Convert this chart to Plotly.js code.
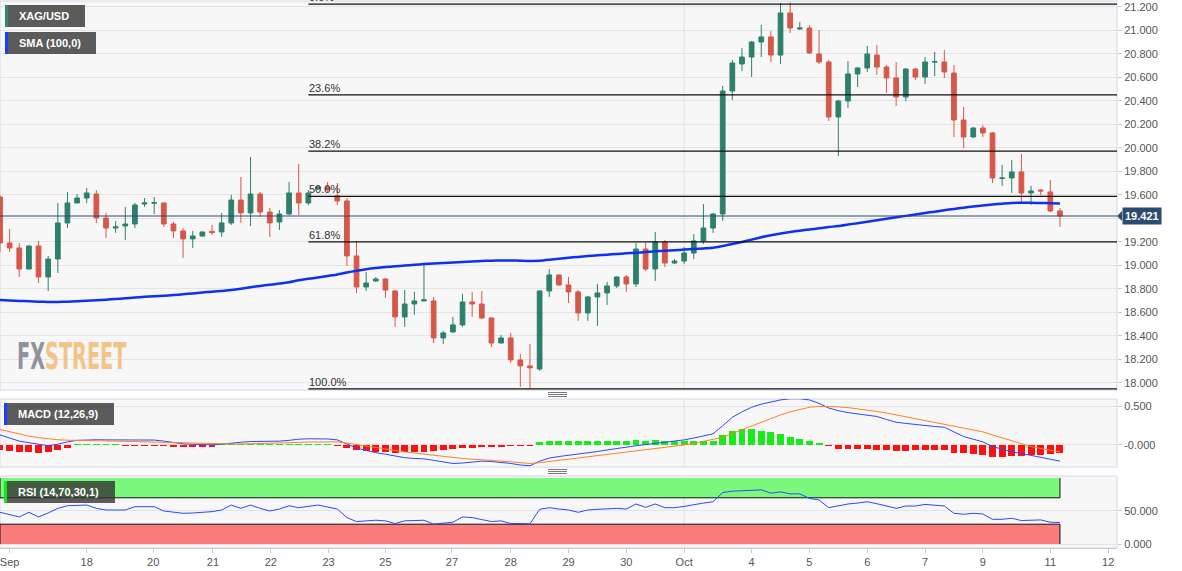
<!DOCTYPE html>
<html><head><meta charset="utf-8">
<script src="https://cdn.plot.ly/plotly-3.0.1.min.js"></script>
<style>html,body{margin:0;padding:0;background:#fff;}#chart{width:1182px;height:571px;}</style>
</head><body><div id="chart"></div>
<script>
// ---- data (4H XAG/USD candles) ----
const open = [
19.583,19.191,19.149,18.970,19.166,18.902,19.055,19.362,19.532,19.574,
19.608,19.404,19.319,19.336,19.353,19.523,19.530,19.532,19.353,19.294,
19.226,19.251,19.290,19.285,19.362,19.557,19.447,19.608,19.455,19.370,
19.438,19.617,19.532,19.651,19.668,19.592,19.549,19.081,18.817,18.868,
18.885,18.783,18.562,18.672,18.698,18.698,18.383,18.434,18.494,18.689,
18.672,18.553,18.340,18.383,18.196,18.145,18.119,18.783,18.919,18.834,
18.775,18.596,18.732,18.766,18.826,18.902,18.843,19.140,18.970,19.200,
19.021,19.038,19.106,19.209,19.319,19.438,20.485,20.715,20.774,20.902,
20.945,20.791,21.149,21.013,21.021,20.800,20.732,20.264,20.400,20.630,
20.681,20.791,20.689,20.596,20.434,20.672,20.604,20.730,20.732,20.638,
20.238,20.094,20.170,20.128,19.740,19.745,19.796,19.617,19.642,19.626,
19.464];
const high = [
19.600,19.311,19.191,19.170,19.209,19.081,19.532,19.626,19.608,19.660,
19.642,19.447,19.379,19.498,19.532,19.574,19.583,19.535,19.370,19.319,
19.294,19.287,19.345,19.447,19.600,19.753,19.923,19.626,19.489,19.472,
19.711,19.864,19.642,19.677,19.711,19.702,19.574,19.209,18.945,18.902,
18.894,18.790,18.791,18.775,19.021,18.732,18.443,18.562,18.758,18.775,
18.783,18.556,18.409,18.426,18.247,18.332,18.786,18.970,18.922,18.902,
18.791,18.741,18.843,18.860,18.905,18.919,19.191,19.191,19.285,19.217,
19.055,19.157,19.268,19.523,19.447,20.528,20.749,20.851,20.911,21.047,
20.996,21.234,21.240,21.072,21.047,21.004,20.749,20.409,20.740,20.689,
20.868,20.877,20.706,20.732,20.681,20.681,20.774,20.817,20.834,20.706,
20.349,20.179,20.196,20.136,19.855,19.898,19.949,19.677,19.651,19.728,
19.489];
const low = [
19.115,19.115,18.902,18.965,18.851,18.783,18.936,19.319,19.530,19.532,
19.362,19.234,19.277,19.217,19.319,19.498,19.438,19.328,19.234,19.064,
19.149,19.243,19.260,19.243,19.345,19.362,19.336,19.413,19.243,19.302,
19.430,19.430,19.515,19.642,19.626,19.515,18.996,18.766,18.783,18.860,
18.724,18.477,18.477,18.579,18.695,18.340,18.332,18.426,18.477,18.562,
18.545,18.306,18.337,18.170,17.966,17.957,18.102,18.732,18.830,18.681,
18.528,18.528,18.485,18.664,18.809,18.775,18.817,18.953,18.868,18.987,
19.013,19.013,19.055,19.183,19.277,19.379,20.409,20.655,20.604,20.774,
20.732,20.715,20.979,21.004,20.800,20.715,20.230,19.932,20.340,20.519,
20.647,20.621,20.468,20.357,20.400,20.579,20.545,20.613,20.596,20.094,
20.000,20.085,20.094,19.702,19.677,19.617,19.532,19.515,19.600,19.455,
19.328];
const close = [
19.191,19.149,18.970,19.166,18.902,19.055,19.362,19.532,19.574,19.617,
19.404,19.319,19.328,19.353,19.515,19.532,19.534,19.353,19.294,19.226,
19.251,19.285,19.280,19.362,19.557,19.447,19.608,19.455,19.362,19.438,
19.617,19.532,19.617,19.668,19.642,19.549,19.081,18.817,18.851,18.885,
18.791,18.562,18.672,18.698,18.707,18.383,18.426,18.494,18.689,18.672,
18.553,18.340,18.383,18.196,18.145,18.128,18.783,18.919,18.834,18.775,
18.596,18.732,18.766,18.826,18.902,18.843,19.140,18.970,19.200,19.021,
19.038,19.106,19.209,19.319,19.438,20.485,20.723,20.774,20.902,20.945,
20.791,21.149,21.021,21.021,20.809,20.732,20.264,20.400,20.630,20.681,
20.800,20.689,20.596,20.434,20.672,20.604,20.732,20.736,20.647,20.238,
20.094,20.170,20.128,19.745,19.745,19.796,19.617,19.634,19.634,19.464,
19.421];
const sma100 = [
18.706,18.702,18.698,18.695,18.692,18.690,18.690,18.692,18.695,18.700,
18.704,18.709,18.714,18.720,18.727,18.733,18.738,18.742,18.748,18.755,
18.762,18.770,18.777,18.783,18.791,18.802,18.815,18.826,18.836,18.846,
18.858,18.874,18.886,18.897,18.910,18.923,18.940,18.955,18.968,18.978,
18.986,18.993,18.999,19.006,19.012,19.017,19.022,19.026,19.030,19.034,
19.038,19.041,19.043,19.043,19.041,19.039,19.040,19.048,19.058,19.066,
19.073,19.080,19.086,19.092,19.097,19.103,19.108,19.114,19.120,19.125,
19.130,19.135,19.140,19.145,19.150,19.165,19.182,19.200,19.220,19.240,
19.258,19.272,19.285,19.296,19.306,19.316,19.327,19.336,19.348,19.360,
19.372,19.385,19.398,19.410,19.422,19.434,19.446,19.458,19.470,19.481,
19.492,19.502,19.511,19.519,19.526,19.532,19.534,19.533,19.532,19.530,
19.528];
const macd = [
0.13,0.09,0.05,0.03,0.01,-0.01,0.01,0.04,0.06,0.066,
0.068,0.066,0.066,0.066,0.067,0.066,0.064,0.05,0.03,0.015,
0.008,0.005,0.002,0.01,0.025,0.035,0.045,0.045,0.048,0.05,
0.06,0.075,0.08,0.08,0.078,0.066,0.01,-0.04,-0.07,-0.10,
-0.12,-0.145,-0.165,-0.175,-0.18,-0.2,-0.22,-0.24,-0.235,-0.22,
-0.21,-0.215,-0.225,-0.24,-0.26,-0.27,-0.21,-0.17,-0.15,-0.135,
-0.12,-0.105,-0.085,-0.065,-0.045,-0.025,-0.01,0.005,0.02,0.035,
0.05,0.066,0.09,0.12,0.145,0.25,0.36,0.43,0.49,0.53,
0.56,0.585,0.6,0.6,0.585,0.54,0.48,0.445,0.42,0.405,
0.39,0.37,0.33,0.295,0.28,0.265,0.25,0.24,0.23,0.17,
0.11,0.075,0.04,-0.02,-0.06,-0.09,-0.11,-0.135,-0.165,-0.19,
-0.21];
const signal = [
0.2,0.17,0.14,0.115,0.095,0.08,0.068,0.062,0.058,0.055,
0.053,0.052,0.05,0.047,0.044,0.04,0.036,0.032,0.028,0.024,
0.02,0.017,0.015,0.014,0.013,0.013,0.015,0.018,0.022,0.026,
0.03,0.034,0.038,0.04,0.042,0.04,0.025,0.005,-0.015,-0.035,
-0.055,-0.075,-0.09,-0.105,-0.12,-0.135,-0.15,-0.165,-0.175,-0.185,
-0.19,-0.2,-0.21,-0.22,-0.23,-0.24,-0.23,-0.215,-0.2,-0.185,
-0.17,-0.155,-0.14,-0.125,-0.11,-0.095,-0.08,-0.065,-0.05,-0.035,
-0.02,0.0,0.02,0.045,0.066,0.1,0.15,0.2,0.25,0.3,
0.345,0.39,0.43,0.465,0.49,0.5,0.5,0.495,0.485,0.47,
0.455,0.435,0.415,0.39,0.365,0.34,0.315,0.29,0.265,0.24,
0.215,0.195,0.17,0.13,0.09,0.05,0.015,-0.02,-0.045,-0.07,
-0.09];
const hist = [
-0.065,-0.075,-0.085,-0.095,-0.1,-0.09,-0.065,-0.035,
0.013,0.013,0.013,0.013,0.013,
-0.013,-0.013,-0.013,-0.013,-0.013,
-0.03,-0.03,-0.03,-0.03,-0.03,
0.013,0.013,0.013,0.013,0.013,0.013,0.013,0.013,0.013,0.013,0.013,0.013,
-0.013,
-0.04,-0.065,-0.08,-0.095,-0.095,-0.1,-0.095,-0.087,-0.087,-0.08,-0.065,-0.055,-0.045,-0.045,-0.03,-0.025,-0.02,-0.015,-0.013,-0.013,
0.04,0.05,0.05,0.05,0.05,0.05,0.05,0.055,0.05,0.05,0.06,0.05,0.06,0.05,0.05,0.05,0.05,0.05,0.055,
0.13,0.18,0.21,0.21,0.18,0.165,0.14,0.11,0.08,0.055,0.025,
-0.013,
-0.05,-0.05,-0.05,-0.055,-0.06,-0.07,-0.075,-0.075,-0.07,-0.065,-0.065,-0.065,
-0.1,-0.11,-0.12,-0.13,-0.15,-0.15,-0.145,-0.145,-0.13,-0.125,-0.12,-0.11];
const rsi = [
48,44,41,48,41,47,54,58,59,59,
54,51.5,51.5,51.5,56.5,56.5,56.5,50,48,46.5,
47,48,49,51.5,59,54,59,54,50,53,
58,55,57,59,56,53,40,34,35,36,
35,31,35,35.5,36,30,31.5,33,41,40,
37,34,35,31,31,30.5,52.5,55,53,51.5,
48,51.5,52.5,53.5,54,53,60.6,55.5,60.6,55,
55,57,60,62,64,78,80,81,81.5,82,
77,79,76,76,69,66.7,55,58,60.6,62,
64,61,58,54,57.5,57.5,60,59,57.5,46.5,
45,46.5,45.5,37.4,37.4,39,35.5,36,36.5,33,
32.5];
const xTickIdx  = [1.0, 9, 15.9, 22.1, 28.1, 34.1, 40, 46.9, 53, 59, 65, 71, 78, 84, 90, 96, 102, 109, 115];
const xTickText = ['Sep','18','20','21','22','23','25','27','28','29','30','Oct','4','5','6','7','9','11','12'];
const priceTicks = [18.0,18.2,18.4,18.6,18.8,19.0,19.2,19.4,19.6,19.8,20.0,20.2,20.4,20.6,20.8,21.0,21.2];
const fibHigh = 21.225, fibLow = 17.95;
const fibPct = [0, 23.6, 38.2, 50, 61.8, 100];
const fibStart = 32;
const octIdx = 71;

// ---- geometry / styles ----
const idx = open.map((_, i) => i);
const last = close[close.length - 1];
const lastIdx = idx[idx.length - 1];
const PW = 1117, PB = 548, PH = 547;
const px = v => v / PW, py = v => (PB - v) / PH;
const domMain = [py(390), 1], domMacd = [py(467), py(399)], domRsi = [0, py(476)];
const rMain = [17.940, 21.251], rMacd = [-0.286, 0.597], rRsi = [-6.06, 103];
const xRange = [0, PW / 9.636];
const GREEN = '#2f7f6d', RED = '#d6584a';
const FONT = 'Liberation Sans, Arial, sans-serif';
const AX = {color:'#555', size:11, family: FONT};

const traces = [
  {type:'candlestick', x: idx, open, high, low, close, xaxis:'x', yaxis:'y',
   increasing:{line:{color:GREEN, width:1}, fillcolor:GREEN},
   decreasing:{line:{color:RED, width:1}, fillcolor:RED},
   whiskerwidth:0, hoverinfo:'skip'},
  {type:'scatter', mode:'lines', x: idx, y: sma100, xaxis:'x', yaxis:'y',
   line:{color:'#1030f0', width:2.5, shape:'spline', smoothing:0.6}, hoverinfo:'skip'},
  {type:'bar', x: idx, y: hist, xaxis:'x', yaxis:'y2', width:0.72,
   marker:{color: hist.map(v => v >= 0 ? '#19ea19' : '#ff1010'), line:{width:0}}, hoverinfo:'skip'},
  {type:'scatter', mode:'lines', x: idx, y: macd, xaxis:'x', yaxis:'y2',
   line:{color:'#2b48ff', width:1}, hoverinfo:'skip'},
  {type:'scatter', mode:'lines', x: idx, y: signal, xaxis:'x', yaxis:'y2',
   line:{color:'#ff8026', width:1}, hoverinfo:'skip'},
  {type:'scatter', mode:'lines', x: idx, y: rsi, xaxis:'x', yaxis:'y3',
   line:{color:'#2b48ff', width:1}, hoverinfo:'skip'}
];

const shapes = [];
const annotations = [];
// panel borders
['y','y2','y3'].forEach(a => shapes.push({type:'rect', xref:'paper', yref:a+' domain', x0:0, x1:1, y0:0, y1:1,
  line:{color:'#d3d8e6', width:1}, fillcolor:'rgba(0,0,0,0)', layer:'below'}));
// month separator
['y','y2','y3'].forEach(a => shapes.push({type:'line', xref:'x', yref:a+' domain', x0:octIdx, x1:octIdx, y0:0, y1:1,
  line:{color:'#e0e0e0', width:1}, layer:'below'}));
// RSI bands
shapes.push({type:'rect', xref:'x', yref:'y3', x0:0, x1:lastIdx, y0:70, y1:100, fillcolor:'#7cf97c', line:{width:0}, layer:'below'});
shapes.push({type:'rect', xref:'x', yref:'y3', x0:0, x1:lastIdx, y0:0, y1:30, fillcolor:'#f97b7b', line:{width:0}, layer:'below'});
[[0,lastIdx,70,70],[0,lastIdx,30,30],[0,0,70,100],[lastIdx,lastIdx,70,100],[0,0,0,30],[lastIdx,lastIdx,0,30]].forEach(s =>
  shapes.push({type:'line', xref:'x', yref:'y3', x0:s[0], x1:s[1], y0:s[2], y1:s[3], line:{color:'#111', width:1}, layer:'below'}));
// fibonacci
fibPct.forEach(p => {
  const lv = fibHigh - p / 100 * (fibHigh - fibLow);
  shapes.push({type:'line', xref:'x', yref:'y', x0:fibStart, x1:xRange[1], y0:lv, y1:lv, line:{color:'#111', width:1.3}, layer:'above'});
  annotations.push({xref:'x', yref:'y', x:fibStart, y:lv, xanchor:'left', yanchor:'bottom', showarrow:false,
    text: p.toFixed(1) + '%', font:{family:FONT, size:11, color:'#333'}, xshift:-1, yshift:-1});
});
// last price line + tag
shapes.push({type:'line', xref:'paper', yref:'y', x0:0, x1:1, y0:last, y1:last, line:{color:'#2d4a6c', width:1}, layer:'above'});
const yP = domMain[0] + (last - rMain[0]) / (rMain[1] - rMain[0]) * (domMain[1] - domMain[0]);
shapes.push({type:'path', xref:'paper', yref:'paper', path:`M 1 ${yP} L ${px(1122)} ${yP + 5/PH} L ${px(1122)} ${yP - 5/PH} Z`,
  fillcolor:'#2b4b70', line:{width:0}});
annotations.push({xref:'paper', yref:'y', x:1, y:last, xanchor:'left', yanchor:'middle', xshift:5, showarrow:false,
  text:'<b>' + last.toFixed(3) + '</b>', bgcolor:'#2b4b70', borderpad:2, font:{family:FONT, size:11, color:'#fff'}});
// label boxes
const boxes = [
  {x0:5, x1:85, y0:5, y1:27, stripe:'#2e8a6e', text:'XAG/USD'},
  {x0:5, x1:96, y0:32, y1:54, stripe:'#1a3dff', text:'SMA (100,0)'},
  {x0:4, x1:114, y0:403, y1:425, stripe:'#1a3dff', text:'MACD (12,26,9)'},
  {x0:4, x1:115, y0:481, y1:503, stripe:'#19e619', text:'RSI (14,70,30,1)'}
];
boxes.forEach(b => {
  shapes.push({type:'rect', xref:'paper', yref:'paper', x0:px(b.x0), x1:px(b.x1), y0:py(b.y1), y1:py(b.y0),
    fillcolor:'rgba(51,51,51,0.8)', line:{width:0}, layer:'above'});
  shapes.push({type:'rect', xref:'paper', yref:'paper', x0:px(b.x0), x1:px(b.x0 + 3), y0:py(b.y1), y1:py(b.y0),
    fillcolor:b.stripe, line:{width:0}, layer:'above'});
  annotations.push({xref:'paper', yref:'paper', x:px(b.x0 + 12), y:py((b.y0 + b.y1) / 2), xanchor:'left', yanchor:'middle',
    showarrow:false, text:'<b>' + b.text + '</b>', font:{family:FONT, size:11, color:'#fff'}});
});
// panel resize handles
[392.5, 394.5, 396.5, 469.5, 471.5, 473.5].forEach(y => shapes.push({type:'line', xref:'paper', yref:'paper',
  x0:px(548), x1:px(567), y0:py(y), y1:py(y), line:{color:'#7a7a7a', width:1}}));
// watermark
annotations.push({xref:'paper', yref:'paper', x:px(15), y:py(356), xanchor:'left', yanchor:'middle', showarrow:false,
  text:'<b><span style="color:#8f9298">FX</span><span style="color:#f2c488">STREET</span></b>',
  font:{family:'Liberation Sans Narrow, DejaVu Sans Condensed, sans-serif', size:28}});

const layout = {
  width:1182, height:571, margin:{l:0, r:65, t:1, b:23, pad:0},
  paper_bgcolor:'#ffffff', plot_bgcolor:'#f7f7f7',
  showlegend:false, hovermode:false, dragmode:false,
  font:{family:FONT, size:11, color:'#555'},
  xaxis:{anchor:'y3', range:xRange, tickvals:xTickIdx, ticktext:xTickText, ticks:'outside', ticklen:4,
    tickcolor:'#c8cdd9', showline:true, linecolor:'#c8cdd9', showgrid:false, zeroline:false,
    ticklabeloverflow:'allow', rangeslider:{visible:false}, tickfont:AX, fixedrange:true},
  yaxis:{domain:domMain, range:rMain, side:'right', anchor:'x', tickvals:priceTicks, tickformat:'.3f',
    ticks:'outside', ticklen:4, tickcolor:'#c8cdd9', gridcolor:'#e4e4e4', zeroline:false, tickfont:AX, fixedrange:true},
  yaxis2:{domain:domMacd, range:rMacd, side:'right', anchor:'x', tickvals:[0, 0.5], ticktext:['-0.000','0.500'],
    ticks:'outside', ticklen:4, tickcolor:'#c8cdd9', gridcolor:'#e4e4e4', zeroline:false, tickfont:AX, fixedrange:true},
  yaxis3:{domain:domRsi, range:rRsi, side:'right', anchor:'x', tickvals:[0, 50], ticktext:['0.000','50.000'],
    ticks:'outside', ticklen:4, tickcolor:'#c8cdd9', gridcolor:'#e4e4e4', zeroline:false, tickfont:AX, fixedrange:true},
  bargap:0,
  shapes, annotations
};
Plotly.newPlot('chart', traces, layout, {staticPlot:true, displayModeBar:false}).then(gd => {
  // condense the watermark glyphs to the logo's proportions (about 110 x 27 px caps)
  try {
    gd.querySelectorAll('g.annotation').forEach(g => {
      if (g.textContent.trim() !== 'FXSTREET') return;
      const t = g.querySelector('text');
      const bb = t.getBBox();
      const sx = 110 / bb.width, sy = 27 / (0.73 * 28);
      const cx = bb.x, cy = bb.y + bb.height / 2;
      t.setAttribute('transform', `translate(${cx},${cy}) scale(${sx},${sy}) translate(${-cx},${-cy})`);
    });
  } catch (e) {}
});
</script></body></html>
